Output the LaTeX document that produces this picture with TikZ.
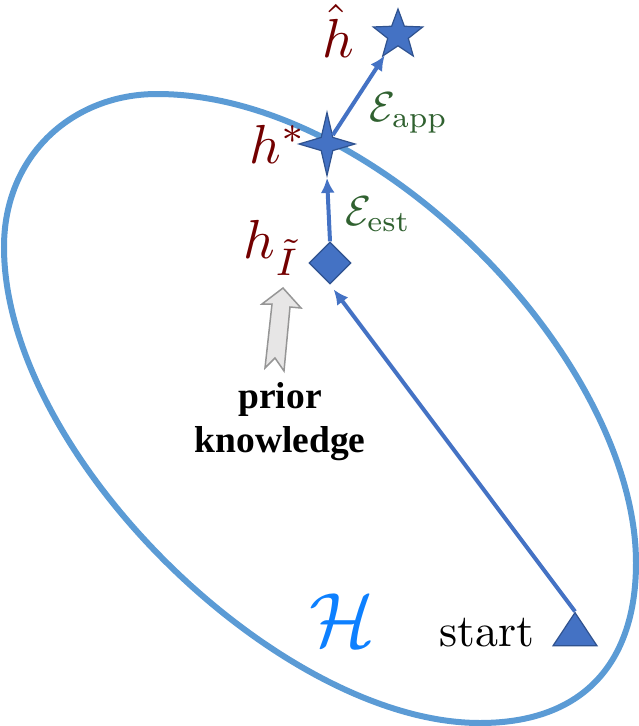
\documentclass[tikz,border=0pt]{standalone}
\usepackage{fontspec}
\newfontfamily\priorfont{Liberation Serif}
\usetikzlibrary{arrows.meta,shapes.geometric}

\definecolor{hypoblue}{rgb}{0.357,0.608,0.835}
\definecolor{fillblue}{rgb}{0.267,0.447,0.769}
\definecolor{edgeblue}{rgb}{0.184,0.322,0.561}
\definecolor{hred}{rgb}{0.45,0,0}
\definecolor{errgreen}{rgb}{0.19,0.38,0.19}
\definecolor{calblue}{rgb}{0.05,0.5,1}

\tikzset{every picture/.style={line width=0.75pt},
  pointmark/.style={draw=edgeblue,line width=1.2pt,fill=fillblue,inner sep=0pt},
  conn/.style={color=fillblue,line width=4pt,-{Latex[length=15pt,width=14pt]}},
  hlabel/.style={color=hred,inner sep=0pt,scale=5.5},
  errlabel/.style={color=errgreen,inner sep=0pt,scale=4.2}}

\begin{document}
\begin{tikzpicture}[x=1pt,y=1pt,yscale=-1,xscale=1]
\useasboundingbox (0,0) rectangle (639,726);

%Shape: Closed Curve
\draw [color=hypoblue,line width=6pt] (157,94) .. controls (380,94) and (636,362) .. (636,563) .. controls (636,662) and (584,723) .. (480,723) .. controls (280,723) and (4,455) .. (4,247) .. controls (4,155) and (73,94) .. (157,94) -- cycle ;

%Shape: Marks
\node [pointmark,star,star points=5,star point ratio=2.4,minimum size=52pt] (hhat) at (398,35) {};
\node [pointmark,star,star points=4,star point ratio=3.4,minimum size=63pt,xscale=0.89] (hstar) at (327,144) {};
\node [pointmark,diamond,minimum size=42pt] (hI) at (330,263) {};
\node [pointmark,isosceles triangle,isosceles triangle apex angle=67,shape border rotate=90,minimum height=33pt,minimum width=44pt] (start) at (575,634) {};

%Straight Lines
\draw [conn] (hstar) -- (hhat);
\draw [conn] (hI.north) -- (hstar.south);
\draw [conn,shorten >=6pt] (start.apex) -- (hI.south);

%Shape: Notched Arrow
\draw [color={rgb, 255:red, 150; green, 150; blue, 150 },fill={rgb, 255:red, 231; green, 230; blue, 230 },line width=1.5pt] (283,288) -- (301,308) -- (290,307) -- (284,371) -- (275,358) -- (265,368) -- (272,304) -- (262,304) -- cycle;

% Text Node
\node [hlabel] (hhatlabel) at (338,31) {$\hat{h}$};
\node [hlabel] (hstarlabel) at (278,144) {$h^{*}$};
\node [hlabel] (hIlabel) at (272,248) {$h_{\tilde{I}}$};
\node [errlabel] (applabel) at (409,113) {$\mathcal{E}_{\mathrm{app}}$};
\node [errlabel] (estlabel) at (378,214) {$\mathcal{E}_{\mathrm{est}}$};
\node [color=calblue,inner sep=0pt,scale=7.7] (hypolabel) at (342,620) {$\mathcal{H}$};
\node [inner sep=0pt,scale=4.6] (startlabel) at (486.5,633) {$\mathrm{start}$};
\node [align=center,inner sep=0pt,font=\priorfont\bfseries\fontsize{37.5}{44}\selectfont] (prior) at (280,422) {prior\\knowledge};

\end{tikzpicture}
\end{document}
